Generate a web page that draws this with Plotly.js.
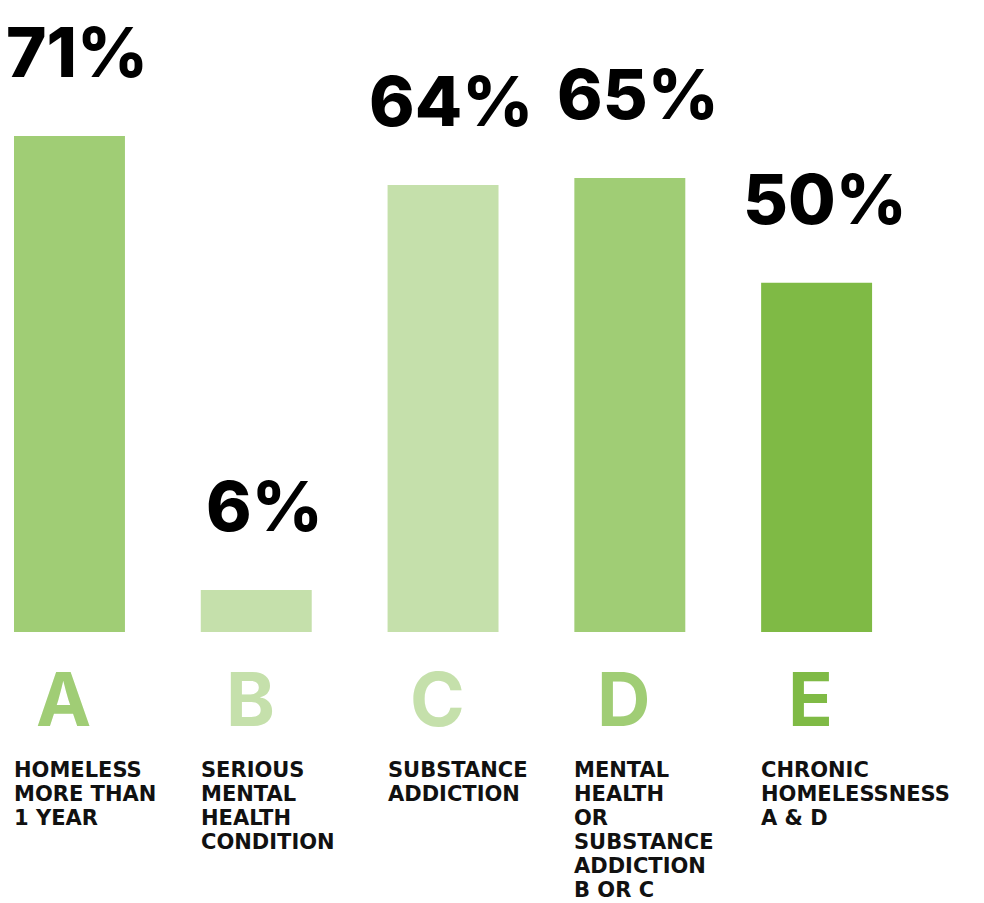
<!DOCTYPE html>
<html>
<head>
<meta charset="utf-8">
<script src="https://cdn.plot.ly/plotly-3.0.1.min.js"></script>
<style>html,body{margin:0;padding:0;background:#fff;}#chart{width:984px;height:903px;}</style>
</head>
<body>
<div id="chart"></div>
<script>
// ---- data ----
const categories = ['A', 'B', 'C', 'D', 'E'];
const values = [71, 6, 64, 65, 50];
const valueLabels = ['71%', '6%', '64%', '65%', '50%'];
const descriptions = [
  ['HOMELESS', 'MORE THAN', '1 YEAR'],
  ['SERIOUS', 'MENTAL', 'HEALTH', 'CONDITION'],
  ['SUBSTANCE', 'ADDICTION'],
  ['MENTAL', 'HEALTH', 'OR', 'SUBSTANCE', 'ADDICTION', 'B OR C'],
  ['CHRONIC', 'HOMELESSNESS', 'A & D']
];
// ---- styles ----
const barColors = ['#a0cd75', '#c5e0ab', '#c5e0ab', '#a0cd75', '#7fba45'];

const xIdx = categories.map((c, i) => i);
const BARW = 0.594;

const trace = {
  type: 'bar',
  x: xIdx,
  y: values,
  width: BARW,
  marker: {color: barColors, line: {width: 0}},
  hoverinfo: 'skip'
};

const annotations = [];
xIdx.forEach(i => {
  annotations.push({
    x: i, y: values[i], xref: 'x', yref: 'y',
    text: valueLabels[i], showarrow: false,
    xanchor: 'center', yanchor: 'bottom', xshift: 8, yshift: 40,
    font: {family: 'Inter, Roboto, sans-serif', size: 69, weight: 800, color: '#000'}
  });
  annotations.push({
    x: i, y: 0, xref: 'x', yref: 'paper',
    text: categories[i], showarrow: false,
    xanchor: 'center', yanchor: 'middle', xshift: -6, yshift: -67,
    font: {family: 'Inter, Roboto, sans-serif', size: 74, weight: 700, color: barColors[i]}
  });
  descriptions[i].forEach((line, k) => {
    annotations.push({
      x: i - BARW / 2, y: 0, xref: 'x', yref: 'paper',
      text: line, showarrow: false,
      xanchor: 'left', yanchor: 'middle', xshift: -2, yshift: -138 - 24 * k,
      font: {family: '"DejaVu Sans", sans-serif', size: 21, weight: 700, color: '#111'}
    });
  });
});

const layout = {
  width: 984, height: 903,
  margin: {l: 14, r: 74, t: 0, b: 271, pad: 0},
  paper_bgcolor: '#ffffff', plot_bgcolor: '#ffffff',
  showlegend: false,
  xaxis: {range: [-BARW / 2, 4.5], showgrid: false, zeroline: false, showticklabels: false, showline: false, ticks: '', fixedrange: true},
  yaxis: {range: [0, 90.47], showgrid: false, zeroline: false, showticklabels: false, showline: false, ticks: '', fixedrange: true},
  annotations: annotations
};

Plotly.newPlot('chart', [trace], layout, {displayModeBar: false, staticPlot: true});
</script>
</body>
</html>
